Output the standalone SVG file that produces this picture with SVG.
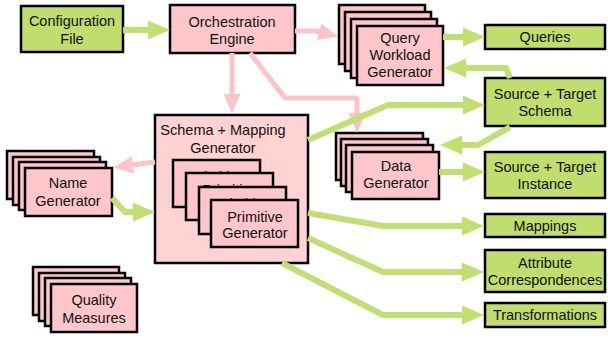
<svg xmlns="http://www.w3.org/2000/svg" width="608" height="339" viewBox="0 0 608 339">
  <style>
    .out { fill: #c0dd6e; stroke: #000; stroke-width: 2.5; }
    .proc { fill: #ffc6cb; stroke: #000; stroke-width: 2.5; }
    .big { fill: #ffd2d3; stroke: #000; stroke-width: 2.5; }
    text { font-family: "Liberation Sans", Arial, Helvetica, sans-serif; font-size: 14.5px; fill: #111; text-anchor: middle; }
    .g { fill: none; stroke: #c2df74; stroke-width: 6; stroke-linejoin: round; }
    .p { fill: none; stroke: #ffc4c9; stroke-width: 5; stroke-linejoin: round; }
  </style>
  <defs>
    <marker id="ga" markerUnits="userSpaceOnUse" markerWidth="22" markerHeight="19" refX="1" refY="9.5" orient="auto">
      <path d="M0,0 L22,9.5 L0,19 z" fill="#c2df74"/>
    </marker>
    <marker id="pa" markerUnits="userSpaceOnUse" markerWidth="20" markerHeight="17" refX="1" refY="8.5" orient="auto">
      <path d="M0,0 L20,8.5 L0,17 z" fill="#ffc4c9"/>
    </marker>
  </defs>

  <rect width="608" height="339" fill="#fff"/>

  <g id="configuration-file">
    <rect class="out" x="21" y="6" width="102" height="46"/>
    <text x="72" y="26">Configuration</text>
    <text x="72" y="44">File</text>
  </g>

  <g id="orchestration-engine">
    <rect class="proc" x="170" y="5" width="125" height="48"/>
    <text x="232" y="27">Orchestration</text>
    <text x="232" y="44">Engine</text>
  </g>

  <g id="query-workload-generator">
    <rect class="proc" x="339" y="5" width="86" height="59"/>
    <rect class="proc" x="345" y="12" width="86" height="59"/>
    <rect class="proc" x="351" y="19" width="86" height="59"/>
    <rect class="proc" x="357" y="26" width="86" height="59"/>
    <text x="400" y="43">Query</text>
    <text x="400" y="60">Workload</text>
    <text x="400" y="77">Generator</text>
  </g>

  <g id="queries">
    <rect class="out" x="485" y="25" width="120" height="24"/>
    <text x="545" y="42">Queries</text>
  </g>

  <g id="source-target-schema">
    <rect class="out" x="485" y="78" width="120" height="48"/>
    <text x="545" y="99">Source + Target</text>
    <text x="545" y="116">Schema</text>
  </g>

  <g id="schema-mapping-generator">
    <rect class="big" x="155" y="115" width="153" height="148"/>
    <text x="223" y="135">Schema + Mapping</text>
    <text x="223" y="153">Generator</text>
    <g id="primitive-generators">
      <rect class="proc" x="173" y="160" width="87" height="47"/>
      <text x="217" y="182">Primitive</text>
      <text x="217" y="198">Generator</text>
      <rect class="proc" x="186" y="173" width="87" height="47"/>
      <text x="230" y="195">Primitive</text>
      <text x="230" y="211">Generator</text>
      <rect class="proc" x="199" y="187" width="87" height="47"/>
      <text x="243" y="209">Primitive</text>
      <text x="243" y="225">Generator</text>
      <rect class="proc" x="211" y="200" width="87" height="47"/>
      <text x="255" y="222">Primitive</text>
      <text x="255" y="238">Generator</text>
    </g>
  </g>

  <g id="data-generator">
    <rect class="proc" x="336" y="133" width="87" height="47"/>
    <rect class="proc" x="341" y="139" width="87" height="47"/>
    <rect class="proc" x="346" y="145" width="87" height="47"/>
    <rect class="proc" x="352" y="152" width="87" height="47"/>
    <text x="396" y="171">Data</text>
    <text x="396" y="188">Generator</text>
  </g>

  <g id="source-target-instance">
    <rect class="out" x="485" y="152" width="120" height="46"/>
    <text x="545" y="172">Source + Target</text>
    <text x="545" y="189">Instance</text>
  </g>

  <g id="name-generator">
    <rect class="proc" x="7" y="151" width="87" height="48"/>
    <rect class="proc" x="13" y="157" width="87" height="48"/>
    <rect class="proc" x="19" y="162" width="87" height="48"/>
    <rect class="proc" x="25" y="168" width="87" height="48"/>
    <text x="68" y="188">Name</text>
    <text x="68" y="206">Generator</text>
  </g>

  <g id="mappings">
    <rect class="out" x="485" y="214" width="120" height="23"/>
    <text x="545" y="231">Mappings</text>
  </g>

  <g id="attribute-correspondences">
    <rect class="out" x="485" y="250" width="120" height="42"/>
    <text x="545" y="268">Attribute</text>
    <text x="545" y="285">Correspondences</text>
  </g>

  <g id="transformations">
    <rect class="out" x="485" y="303" width="120" height="24"/>
    <text x="545" y="320">Transformations</text>
  </g>

  <g id="quality-measures">
    <rect class="proc" x="33" y="267" width="86" height="48"/>
    <rect class="proc" x="39" y="273" width="86" height="48"/>
    <rect class="proc" x="45" y="278" width="86" height="48"/>
    <rect class="proc" x="51" y="284" width="86" height="48"/>
    <text x="94" y="305">Quality</text>
    <text x="94" y="323">Measures</text>
  </g>

  <g id="connectors">
    <!-- control flow from the engine -->
    <path class="p" d="M295,31 L316,31 L320,32" marker-end="url(#pa)"/>
    <path class="p" d="M232,53 L232,95" marker-end="url(#pa)"/>
    <path class="p" d="M250,53 L285,98 L357,98 L357,114" marker-end="url(#pa)"/>
    <path class="p" d="M155,162 L132,165" marker-end="url(#pa)"/>
    <!-- data flow -->
    <path class="g" d="M123,30 L149,30" marker-end="url(#ga)"/>
    <path class="g" d="M443,37 L464,37" marker-end="url(#ga)"/>
    <path class="g" d="M510,78 L506,68 L465,68" marker-end="url(#ga)"/>
    <path class="g" d="M510,127 L478,145 L461,145" marker-end="url(#ga)"/>
    <path class="g" d="M308,140 L388,105 L464,105" marker-end="url(#ga)"/>
    <path class="g" d="M439,172 L464,172" marker-end="url(#ga)"/>
    <path class="g" d="M112,198 L125,212 L134,212" marker-end="url(#ga)"/>
    <path class="g" d="M308,213 L383,226 L463,226" marker-end="url(#ga)"/>
    <path class="g" d="M308,238 L383,272 L463,272" marker-end="url(#ga)"/>
    <path class="g" d="M282,263 L383,315 L463,315" marker-end="url(#ga)"/>
  </g>
</svg>
